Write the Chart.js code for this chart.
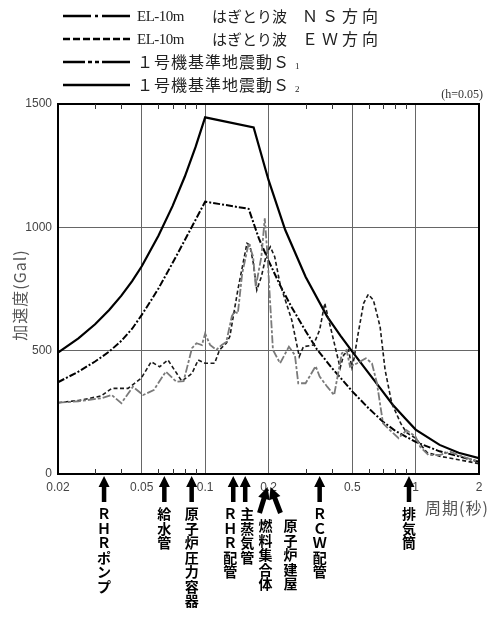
<!DOCTYPE html>
<html>
<head>
<meta charset="utf-8">
<script src="https://cdn.jsdelivr.net/npm/chart.js@4"></script>
<style>
  html, body { margin: 0; padding: 0; background: #fff; }
</style>
</head>
<body>
<canvas id="chart" width="497" height="618"></canvas>
<script>
// period (s) and acceleration (Gal)
const nsPeriod = [0.02, 0.025, 0.032, 0.036, 0.04, 0.0454, 0.0507, 0.057, 0.065, 0.073, 0.079, 0.0866, 0.091, 0.0966, 0.1, 0.1056, 0.113, 0.12, 0.126, 0.134, 0.138, 0.143, 0.15, 0.161, 0.169, 0.174, 0.185, 0.192, 0.198, 0.202, 0.21, 0.227, 0.25, 0.267, 0.277, 0.3, 0.335, 0.35, 0.38, 0.41, 0.446, 0.47, 0.488, 0.527, 0.58, 0.62, 0.655, 0.7, 0.74, 0.83, 0.905, 1.0, 1.05, 1.15, 1.3, 1.46, 1.7, 2.0];
const nsAcc = [289, 295, 307, 320, 287, 354, 320, 340, 415, 374, 376, 510, 530, 523, 570, 523, 503, 523, 535, 640, 658, 651, 813, 935, 881, 759, 881, 1037, 881, 746, 503, 449, 516, 482, 368, 368, 437, 395, 354, 320, 489, 503, 435, 449, 469, 449, 368, 205, 185, 145, 178, 151, 111, 77, 77, 90, 68, 50];

const ewPeriod = [0.02, 0.025, 0.032, 0.036, 0.043, 0.0497, 0.0554, 0.0608, 0.0666, 0.0774, 0.082, 0.0866, 0.0927, 0.1, 0.111, 0.117, 0.126, 0.131, 0.143, 0.158, 0.163, 0.169, 0.176, 0.185, 0.196, 0.204, 0.214, 0.227, 0.258, 0.28, 0.293, 0.327, 0.35, 0.37, 0.39, 0.438, 0.455, 0.48, 0.498, 0.51, 0.53, 0.566, 0.596, 0.63, 0.678, 0.716, 0.77, 0.85, 0.905, 1.0, 1.13, 1.3, 1.6, 2.0];
const ewAcc = [289, 298, 316, 347, 347, 388, 455, 435, 462, 377, 392, 408, 462, 449, 449, 503, 530, 557, 746, 935, 928, 860, 746, 800, 895, 921, 881, 770, 624, 476, 516, 523, 584, 692, 611, 430, 482, 503, 432, 469, 557, 692, 728, 705, 597, 422, 287, 205, 168, 145, 88, 72, 58, 42];

const s1Period = [0.02, 0.025, 0.03, 0.035, 0.04, 0.045, 0.05, 0.055, 0.06, 0.07, 0.08, 0.09, 0.1, 0.161, 0.18, 0.2, 0.227, 0.258, 0.3, 0.34, 0.4, 0.44, 0.5, 0.6, 0.7, 0.8, 1.0, 1.3, 2.0];
const s1Acc = [372, 415, 456, 496, 540, 589, 645, 700, 752, 855, 948, 1030, 1104, 1075, 955, 865, 765, 675, 580, 505, 430, 390, 335, 265, 212, 175, 130, 92, 50];

const s2Period = [0.02, 0.025, 0.03, 0.035, 0.04, 0.045, 0.05, 0.06, 0.07, 0.08, 0.09, 0.1, 0.17, 0.2, 0.24, 0.3, 0.38, 0.44, 0.5, 0.575, 0.67, 0.78, 0.9, 1.0, 1.3, 1.6, 2.0];
const s2Acc = [492, 550, 607, 665, 723, 782, 842, 966, 1086, 1205, 1325, 1446, 1405, 1192, 990, 800, 638, 560, 496, 428, 354, 280, 222, 180, 118, 86, 64];

const xTicks = [0.02, 0.03, 0.04, 0.05, 0.06, 0.07, 0.08, 0.09, 0.1, 0.2, 0.3, 0.4, 0.5, 0.6, 0.7, 0.8, 0.9, 1, 2];
const xLabels = [0.02, 0.05, 0.1, 0.2, 0.5, 1, 2];
const xGrid = [0.05, 0.1, 0.2, 0.5, 1];
const xMinor = [0.03, 0.04, 0.06, 0.07, 0.08, 0.09, 0.3, 0.4, 0.6, 0.7, 0.8, 0.9];
const yTicks = [0, 500, 1000, 1500];

const seriesNames = ['EL-10m　はぎとり波　ＮＳ方向', 'EL-10m　はぎとり波　ＥＷ方向', '１号機基準地震動Ｓ₁', '１号機基準地震動Ｓ₂'];

// equipment natural periods marked below the axis
const compNames = ['ＲＨＲポンプ', '給水管', '原子炉圧力容器', 'ＲＨＲ配管', '主蒸気管', '燃料集合体', '原子炉建屋', 'ＲＣＷ配管', '排気筒'];
const compPeriods = [0.0331, 0.064, 0.0863, 0.136, 0.155, 0.2, 0.2, 0.35, 0.93];

const pts = (xs, ys) => xs.map((x, i) => ({ x: x, y: ys[i] }));

const CJK = '"Noto Sans CJK JP", sans-serif';

const decor = {
  id: 'decor',
  afterDraw(chart) {
    const ctx = chart.ctx;
    const a = chart.chartArea;
    const xs = chart.scales.x;

    ctx.save();
    // frame
    ctx.strokeStyle = '#000';
    ctx.lineWidth = 2;
    ctx.strokeRect(a.left, a.top, a.right - a.left, a.bottom - a.top);

    // minor ticks, inward, top and bottom
    ctx.lineWidth = 1;
    ctx.strokeStyle = '#333';
    xMinor.forEach(v => {
      const x = Math.round(xs.getPixelForValue(v)) + 0.5;
      ctx.beginPath();
      ctx.moveTo(x, a.top); ctx.lineTo(x, a.top + 5);
      ctx.moveTo(x, a.bottom); ctx.lineTo(x, a.bottom - 5);
      ctx.stroke();
    });

    // legend
    const dashes = [[28, 4, 3, 4, 28], [7, 3], [22, 3, 4, 3, 4, 3, 28], []];
    ctx.strokeStyle = '#000';
    ctx.fillStyle = '#222';
    ctx.textBaseline = 'middle';
    seriesNames.forEach((name, i) => {
      const y = 16 + i * 23;
      ctx.lineWidth = 2.5;
      ctx.setLineDash(dashes[i]);
      ctx.beginPath();
      ctx.moveTo(63, y); ctx.lineTo(130, y);
      ctx.stroke();
      ctx.setLineDash([]);
      const parts = name.split('　');
      if (parts.length === 3) {
        ctx.letterSpacing = '-0.5px';
        ctx.font = '15px "Liberation Serif", serif';
        ctx.fillText(parts[0], 137, y + 1);
        ctx.letterSpacing = '0px';
        ctx.font = '15px ' + CJK;
        ctx.fillText(parts[1], 212, y);
        ctx.letterSpacing = '4px';
        ctx.font = '16px ' + CJK;
        ctx.fillText(parts[2], 302, y);
      } else {
        const main = name.slice(0, -1);
        const sub = name.slice(-1) === '₁' ? '1' : '2';
        ctx.letterSpacing = '1px';
        ctx.font = '16px ' + CJK;
        ctx.fillText(main, 137, y);
        ctx.letterSpacing = '0px';
        ctx.font = '9px "Liberation Serif", serif';
        ctx.fillText(sub, 295, y + 5);
      }
    });
    ctx.letterSpacing = '0px';

    // damping note
    ctx.font = '12px "Liberation Serif", serif';
    ctx.fillStyle = '#333';
    ctx.textAlign = 'right';
    ctx.fillText('(h=0.05)', 483, 95);

    // axis titles
    ctx.fillStyle = '#555';
    ctx.textAlign = 'left';
    ctx.font = '16px ' + CJK;
    ctx.letterSpacing = '1px';
    ctx.fillText('周期(秒)', 425, 508);
    ctx.save();
    ctx.translate(20, 295);
    ctx.rotate(-Math.PI / 2);
    ctx.textAlign = 'center';
    ctx.fillText('加速度(Gal)', 0, 0);
    ctx.restore();
    ctx.letterSpacing = '0px';

    // arrows and labels
    ctx.fillStyle = '#000';
    const arrow = (tx, ty, bx, by, shaft, headW, headL) => {
      const dx = tx - bx, dy = ty - by;
      const len = Math.hypot(dx, dy);
      const ux = dx / len, uy = dy / len;
      const nx = -uy, ny = ux;
      const hx = tx - ux * headL, hy = ty - uy * headL;
      ctx.beginPath();
      ctx.moveTo(tx, ty);
      ctx.lineTo(hx + nx * headW / 2, hy + ny * headW / 2);
      ctx.lineTo(hx + nx * shaft / 2, hy + ny * shaft / 2);
      ctx.lineTo(bx + nx * shaft / 2, by + ny * shaft / 2);
      ctx.lineTo(bx - nx * shaft / 2, by - ny * shaft / 2);
      ctx.lineTo(hx - nx * shaft / 2, hy - ny * shaft / 2);
      ctx.lineTo(hx - nx * headW / 2, hy - ny * headW / 2);
      ctx.closePath();
      ctx.fill();
    };
    ctx.font = 'bold 14px ' + CJK;
    ctx.textAlign = 'center';
    ctx.textBaseline = 'top';
    compNames.forEach((name, i) => {
      const x = xs.getPixelForValue(compPeriods[i]);
      let lx = x, ly = 507;
      if (name === '燃料集合体') {
        arrow(x - 1, 487, x - 9, 513, 5, 12, 12);
        lx = x - 3; ly = 519;
      } else if (name === '原子炉建屋') {
        arrow(x + 2, 487, x + 12, 513, 5, 12, 12);
        lx = x + 22; ly = 519;
      } else {
        arrow(x, 476, x, 502, 4.5, 11, 11);
        if (name === 'ＲＨＲ配管') lx = x - 3;
        if (name === '主蒸気管') lx = x + 2;
      }
      Array.from(name).forEach((ch, k) => ctx.fillText(ch, lx, ly + k * 14.5));
    });
    ctx.restore();
  }
};

new Chart(document.getElementById('chart'), {
  type: 'line',
  data: {
    datasets: [
      {
        label: seriesNames[0],
        data: pts(nsPeriod, nsAcc),
        borderColor: '#7a7a7a',
        borderWidth: 1.8,
        borderDash: [8, 2, 3, 2]
      },
      {
        label: seriesNames[1],
        data: pts(ewPeriod, ewAcc),
        borderColor: '#1a1a1a',
        borderWidth: 1.6,
        borderDash: [4, 2.5]
      },
      {
        label: seriesNames[2],
        data: pts(s1Period, s1Acc),
        borderColor: '#000',
        borderWidth: 2,
        borderDash: [7, 2, 2, 2]
      },
      {
        label: seriesNames[3],
        data: pts(s2Period, s2Acc),
        borderColor: '#000',
        borderWidth: 2.2
      }
    ]
  },
  options: {
    responsive: false,
    animation: false,
    layout: { padding: { top: 104, right: 18, left: 0, bottom: 0 } },
    elements: { point: { radius: 0 }, line: { tension: 0 } },
    plugins: { legend: { display: false }, tooltip: { enabled: false } },
    scales: {
      x: {
        type: 'logarithmic',
        min: 0.02,
        max: 2,
        afterBuildTicks: s => { s.ticks = xTicks.map(v => ({ value: v })); },
        afterFit: s => { s.height = 144; },
        border: { display: false },
        grid: {
          drawTicks: false,
          lineWidth: 1,
          color: c => (c.tick && xGrid.includes(c.tick.value)) ? '#666' : 'rgba(0,0,0,0)'
        },
        ticks: {
          autoSkip: false,
          maxRotation: 0,
          padding: 6,
          color: '#444',
          font: { family: '"Liberation Sans", sans-serif', size: 12 },
          callback: v => xLabels.includes(v) ? String(v) : ''
        }
      },
      y: {
        min: 0,
        max: 1500,
        afterBuildTicks: s => { s.ticks = yTicks.map(v => ({ value: v })); },
        afterFit: s => { s.width = 58; },
        border: { display: false },
        grid: {
          drawTicks: false,
          lineWidth: 1,
          color: c => (c.tick && (c.tick.value === 500 || c.tick.value === 1000)) ? '#666' : 'rgba(0,0,0,0)'
        },
        ticks: {
          padding: 6,
          color: '#444',
          font: { family: '"Liberation Sans", sans-serif', size: 12 },
          callback: v => String(v)
        }
      }
    }
  },
  plugins: [decor]
});
</script>
</body>
</html>
